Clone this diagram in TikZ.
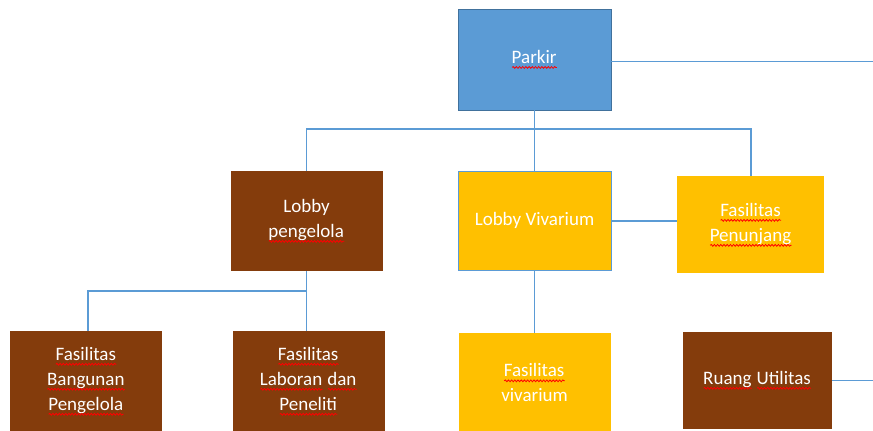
\documentclass[tikz,border=0pt]{standalone}
\usepackage{fontspec}
\setmainfont{Carlito}
\usetikzlibrary{positioning,decorations.pathmorphing}
\definecolor{parkblue}{HTML}{5B9BD5}
\definecolor{edgeblue}{HTML}{41719C}
\definecolor{brownfill}{HTML}{843C0C}
\definecolor{goldfill}{HTML}{FFC000}
% red spell-check wave under a word
\newdimen\typowd
\newcommand\typo[1]{\setbox0=\hbox{#1}\typowd=\wd0\leavevmode\rlap{\box0}%
  \tikz[baseline=0pt, reset cm]\draw[red, line width=0.8pt, decoration={snake, amplitude=0.9pt, segment length=3.2pt}, decorate]
    (0pt,-4pt) -- (\typowd,-4pt);}
\tikzset{link/.style={draw=parkblue, line width=1.6pt},
  room/.style={minimum width=152pt, minimum height=100pt, inner sep=0pt, align=center, text=white},
  brownroom/.style={room, fill=brownfill},
  goldroom/.style={room, fill=goldfill}}

\begin{document}
\begin{tikzpicture}[font=\fontsize{19}{25}\selectfont]
  \useasboundingbox (0,0) rectangle (873pt,-431pt);
  \coordinate (rim) at (873pt,0);
  \node[room, fill=parkblue, draw=edgeblue, minimum width=153pt, minimum height=101pt] (parkir) at (534.5pt,-59.5pt) {\typo{Parkir}};
  \node[goldroom, draw=parkblue, below=61pt of parkir, minimum width=153pt, minimum height=99pt] (vivlobby) {Lobby Vivarium};
  \node[brownroom, left=75pt of vivlobby] (pengelola) {Lobby\\ \typo{pengelola}};
  \node[goldroom, right=66pt of vivlobby, yshift=-4pt, minimum width=147pt, minimum height=97pt] (penunjang) {\typo{Fasilitas}\\ \typo{Penunjang}};
  \node[goldroom, below=62pt of vivlobby] (vivfas) {\typo{Fasilitas}\\ vivarium};
  \node[brownroom, below=60pt of pengelola, xshift=2pt] (laboran) {\typo{Fasilitas}\\ \typo{Laboran} \typo{dan}\\ \typo{Peneliti}};
  \node[brownroom, left=70pt of laboran] (bangunan) {\typo{Fasilitas}\\ \typo{Bangunan}\\ \typo{Pengelola}};
  \node[brownroom, right=72pt of vivfas, yshift=2.5pt, minimum width=149pt, minimum height=97pt] (utilitas) {\typo{Ruang} \typo{Utilitas}};
  % parkir down to the lobbies
  \path (parkir.south) ++(0,-19pt) coordinate (topbus);
  \draw[link] (parkir.south) -- (vivlobby.north);
  \draw[link] (pengelola.north) |- (topbus) -| (penunjang.north);
  \draw[link] ([yshift=-2pt]parkir.east) -- ([yshift=-2pt]parkir.east -| rim);
  % pengelola branch
  \path (pengelola.south) ++(0,-20pt) coordinate (lowbus);
  \draw[link] (pengelola.south) -- (pengelola.south |- laboran.north);
  \draw[link] ([xshift=2pt]bangunan.north) |- (lowbus);
  % vivarium branch
  \draw[link] (vivlobby.south) -- (vivfas.north);
  \draw[link] (vivlobby.east) -- (vivlobby.east -| penunjang.west);
  \draw[link] (utilitas.east) -- (utilitas.east -| rim);
\end{tikzpicture}
\end{document}
